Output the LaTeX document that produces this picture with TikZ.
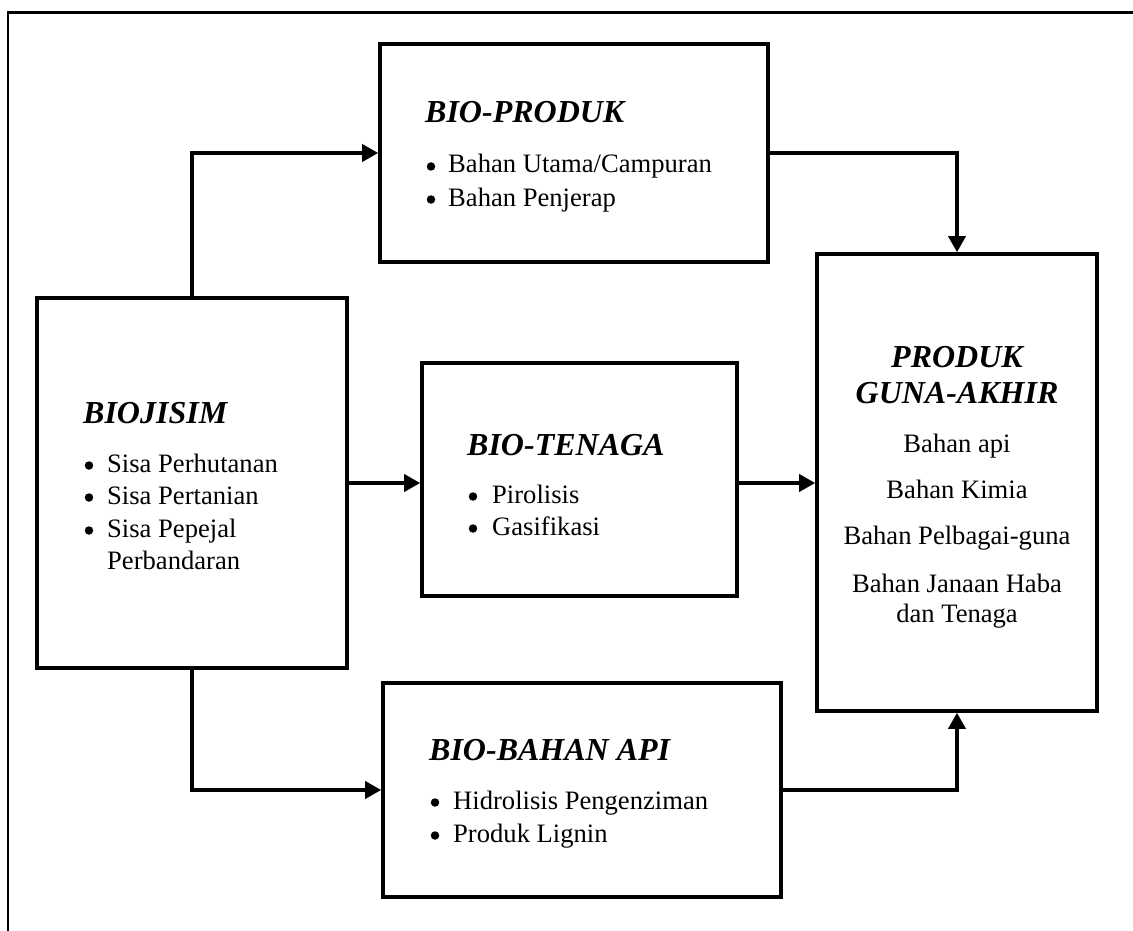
\documentclass[tikz,border=0pt]{standalone}
\usepackage{fontspec}
\setmainfont{Liberation Serif}
\usetikzlibrary{arrows.meta}

\begin{document}
\begin{tikzpicture}[x=1pt,y=-1pt,
  box/.style={draw, line width=3.6pt, inner sep=0pt, rectangle},
  arr/.style={line width=3.6pt, -{Triangle[length=16pt,width=17pt]}},
  ttl/.style={anchor=base west, inner sep=0pt, font=\fontsize{32}{36}\selectfont\bfseries\itshape},
  ttlc/.style={anchor=base, inner sep=0pt, font=\fontsize{32}{36}\selectfont\bfseries\itshape},
  txt/.style={anchor=base west, inner sep=0pt, font=\fontsize{26.6}{32}\selectfont},
  txtc/.style={anchor=base, inner sep=0pt, font=\fontsize{26.6}{32}\selectfont},
  bul/.style={circle, fill, inner sep=0pt, minimum size=8.5pt, yshift=6.5pt}]

\useasboundingbox (0,0) rectangle (1133,931);

% outer frame (top and left sides)
\draw[line width=2.6pt] (8,931) -- (8,12.5) -- (1133,12.5);

% boxes
\node[box, minimum width=388pt, minimum height=218pt] (bioproduk) at (574,153) {};
\node[box, minimum width=310pt, minimum height=370pt] (biojisim) at (192,483) {};
\node[box, minimum width=315pt, minimum height=233pt] (biotenaga) at (579.5,479.5) {};
\node[box, minimum width=280pt, minimum height=457pt] (produk) at (957,482.5) {};
\node[box, minimum width=398pt, minimum height=214pt] (biobahan) at (582,790) {};

% connectors
\draw[arr] (biojisim.north) |- (bioproduk.west);
\draw[arr] (bioproduk.east) -| (produk.north);
\draw[arr] (biojisim.east) -- (biojisim.east -| biotenaga.west);
\draw[arr] (biotenaga.east |- biojisim.east) -- (produk.west |- biojisim.east);
\draw[arr] (biojisim.south) |- (biobahan.west);
\draw[arr] (biobahan.east) -| (produk.south);

% BIO-PRODUK
\node[ttl] (tp) at (425,123) {BIO-PRODUK};
\node[bul] (bp1) at (431,173) {};
\node[txt] (lp1) at (448,173) {Bahan Utama/Campuran};
\node[bul] (bp2) at (431,206) {};
\node[txt] (lp2) at (448,206) {Bahan Penjerap};

% BIOJISIM
\node[ttl] (tj) at (83,423) {BIOJISIM};
\node[bul] (bj1) at (89,472) {};
\node[txt] (lj1) at (107,472) {Sisa Perhutanan};
\node[bul] (bj2) at (89,504) {};
\node[txt] (lj2) at (107,504) {Sisa Pertanian};
\node[bul] (bj3) at (89,537) {};
\node[txt] (lj3) at (107,537) {Sisa Pepejal};
\node[txt] (lj4) at (107,569) {Perbandaran};

% BIO-TENAGA
\node[ttl] (tt) at (467,455) {BIO-TENAGA};
\node[bul] (bt1) at (473,503) {};
\node[txt] (lt1) at (492,503) {Pirolisis};
\node[bul] (bt2) at (473,535) {};
\node[txt] (lt2) at (492,535) {Gasifikasi};

% BIO-BAHAN API
\node[ttl] (tb) at (429,760) {BIO-BAHAN API};
\node[bul] (bb1) at (435,809) {};
\node[txt] (lb1) at (453,809) {Hidrolisis Pengenziman};
\node[bul] (bb2) at (435,842) {};
\node[txt] (lb2) at (453,842) {Produk Lignin};

% PRODUK GUNA-AKHIR
\node[ttlc] (tg1) at (957,367) {PRODUK};
\node[ttlc] (tg2) at (957,403) {GUNA-AKHIR};
\node[txtc] (lg1) at (957,452) {Bahan api};
\node[txtc] (lg2) at (957,498) {Bahan Kimia};
\node[txtc] (lg3) at (957,544) {Bahan Pelbagai-guna};
\node[txtc] (lg4) at (957,592) {Bahan Janaan Haba};
\node[txtc] (lg5) at (957,622) {dan Tenaga};

\end{tikzpicture}
\end{document}
